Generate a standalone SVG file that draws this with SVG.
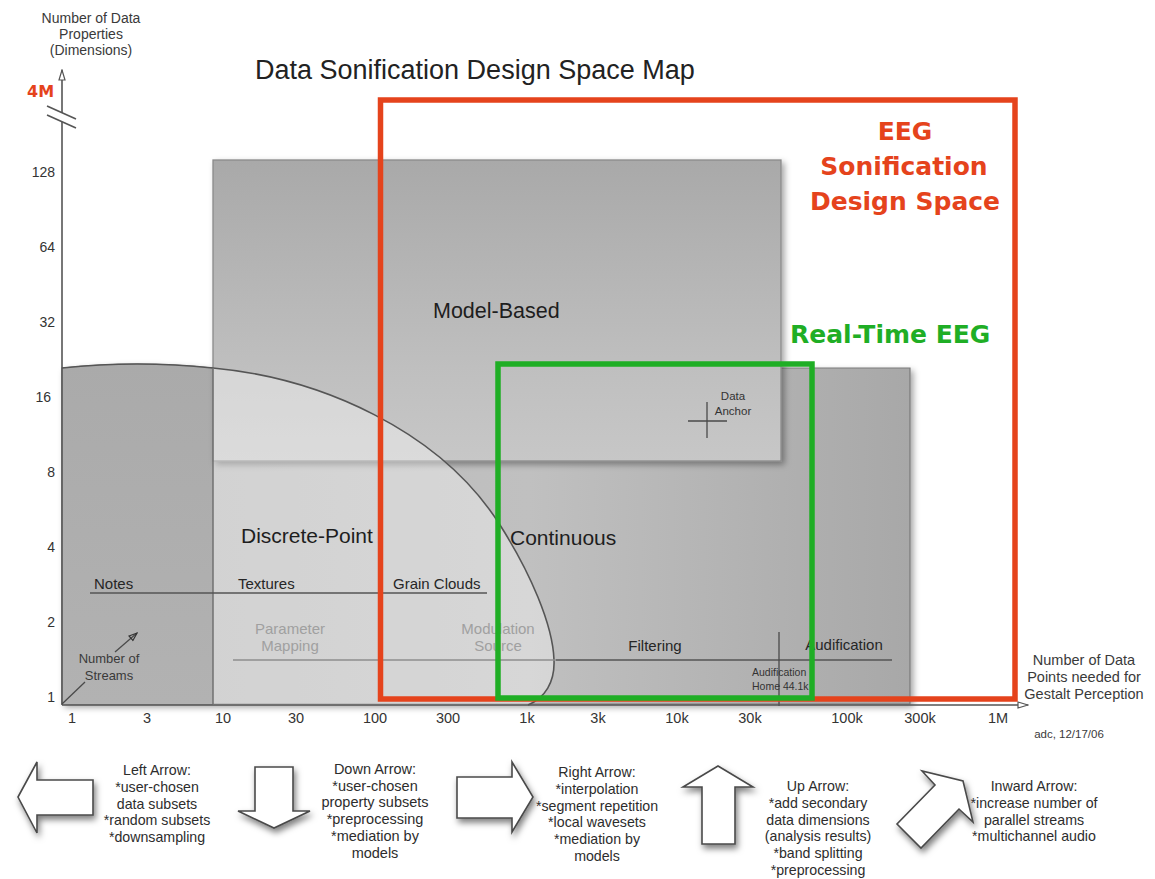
<svg xmlns="http://www.w3.org/2000/svg" width="1155" height="879" viewBox="0 0 1155 879">
  <defs>
    <style>
      text{font-family:"Liberation Sans",Arial,Helvetica,sans-serif;fill:#2a2a2a}
      .ax{font-size:14px;fill:#3a3a3a;text-anchor:middle}
      .tick{font-size:14.5px;fill:#333;text-anchor:middle}
      .ytick{font-size:14px;fill:#333;text-anchor:end}
      .region{font-size:21px;fill:#1e1e1e}
      .lbl{font-size:15px;fill:#262626}
      .faint{font-size:15px;fill:#a0a0a0;text-anchor:middle}
      .small{font-size:10.5px;fill:#333}
      .note{font-size:14.2px;fill:#2d2d2d;text-anchor:middle}
      .hl{font-family:"DejaVu Sans","Liberation Sans",sans-serif;font-weight:bold;font-size:25px}
      .red{fill:#e5431c}
      .green{fill:#1fae25}
      .line{stroke:#555;stroke-width:1.6;fill:none}
      .thin{stroke:#4a4a4a;stroke-width:1.3;fill:none}
      .blk{fill:#fff;stroke:#4a4a4a;stroke-width:1.6;stroke-linejoin:miter}
    </style>
    <linearGradient id="gModel" x1="0" y1="160" x2="0" y2="461" gradientUnits="userSpaceOnUse">
      <stop offset="0" stop-color="#a9a9a9"/>
      <stop offset="0.69" stop-color="#bfbfbf"/>
      <stop offset="1" stop-color="#c7c7c7"/>
    </linearGradient>
    <linearGradient id="gLower" x1="62" y1="0" x2="910" y2="0" gradientUnits="userSpaceOnUse">
      <stop offset="0" stop-color="#b6b6b6"/>
      <stop offset="0.55" stop-color="#c0c0c0"/>
      <stop offset="1" stop-color="#a8a8a8"/>
    </linearGradient>
    <linearGradient id="gLeft" x1="0" y1="362" x2="0" y2="704" gradientUnits="userSpaceOnUse">
      <stop offset="0" stop-color="#aaaaaa"/>
      <stop offset="1" stop-color="#b2b2b2"/>
    </linearGradient>
    <filter id="shadow" x="-10%" y="-10%" width="125%" height="125%">
      <feDropShadow dx="3" dy="3" stdDeviation="3" flood-color="#000" flood-opacity="0.35"/>
    </filter>
    <filter id="arrowShadow" x="-30%" y="-30%" width="170%" height="170%">
      <feDropShadow dx="2" dy="4" stdDeviation="3" flood-color="#000" flood-opacity="0.5"/>
    </filter>
    <marker id="openHead" viewBox="0 0 12 8" markerWidth="12" markerHeight="8" refX="11" refY="4" orient="auto" markerUnits="userSpaceOnUse">
      <path d="M1,1 L11,4 L1,7 Z" fill="#fff" stroke="#555" stroke-width="1.2"/>
    </marker>
    <marker id="smallHead" viewBox="0 0 10 8" markerWidth="10" markerHeight="8" refX="9" refY="4" orient="auto" markerUnits="userSpaceOnUse">
      <path d="M1,1 L9,4 L1,7 Z" fill="none" stroke="#333" stroke-width="1.2"/>
    </marker>
  </defs>

  <rect width="1155" height="879" fill="#fff"/>

  <!-- heading -->
  <g id="title">
    <text x="255" y="79" style="font-size:27px;fill:#222">Data Sonification Design Space Map</text>
  </g>

  <!-- lower region: discrete and continuous techniques -->
  <g id="lower-region">
    <path d="M62,368 Q137,360 213,368 L910,368 L910,704 L62,704 Z" fill="url(#gLower)" stroke="#7a7a7a" stroke-width="1.2" filter="url(#shadow)"/>
    <path d="M62,368 Q137,360 213,368 L213,704 L62,704 Z" fill="url(#gLeft)"/>
  </g>

  <!-- model-based region -->
  <g id="model-based">
    <rect x="213" y="160" width="568" height="301" fill="url(#gModel)" stroke="#8a8a8a" stroke-width="1.3" filter="url(#shadow)"/>
  </g>

  <!-- discrete-point zone bounded by the curve -->
  <g id="discrete-point">
    <path d="M213,368 C320,378 440,430 500,525 C530,572 553,625 554,660 C555,682 545,698 528,705 L213,705 Z" fill="#fff" fill-opacity="0.36"/>
    <path d="M62,368 Q137,360 213,368 C320,378 440,430 500,525 C530,572 553,625 554,660 C555,682 545,698 528,705" class="line"/>
    <line x1="213" y1="368" x2="213" y2="704" stroke="#707070" stroke-width="1.5"/>
  </g>

  <!-- technique scales -->
  <g id="scales">
    <line x1="90" y1="593" x2="487" y2="593" class="line" stroke-width="2"/>
    <line x1="233" y1="660" x2="556" y2="660" stroke="#8e8e8e" stroke-width="1.6"/>
    <line x1="556" y1="660" x2="892" y2="660" class="line"/>
    <line x1="779" y1="632" x2="779" y2="706" class="thin"/>
    <line x1="688" y1="421" x2="727" y2="421" class="thin"/>
    <line x1="707" y1="402" x2="707" y2="438" class="thin"/>
  </g>

  <g id="labels">
    <text x="433" y="318" class="region" style="font-size:21.5px">Model-Based</text>
    <text x="241" y="543" class="region">Discrete-Point</text>
    <text x="510" y="545" class="region">Continuous</text>
    <text x="94" y="589" class="lbl">Notes</text>
    <text x="238" y="589" class="lbl">Textures</text>
    <text x="393" y="589" class="lbl">Grain Clouds</text>
    <text class="faint"><tspan x="290" y="634">Parameter</tspan><tspan x="290" y="651">Mapping</tspan></text>
    <text class="faint"><tspan x="498" y="634">Modulation</tspan><tspan x="498" y="651">Source</tspan></text>
    <text x="655" y="651" class="lbl" text-anchor="middle">Filtering</text>
    <text x="844" y="650" class="lbl" text-anchor="middle">Audification</text>
    <text class="small"><tspan x="752" y="676">Audification</tspan><tspan x="752" y="690">Home 44.1k</tspan></text>
    <text class="small" text-anchor="middle" style="font-size:11.5px"><tspan x="733" y="400">Data</tspan><tspan x="733" y="415">Anchor</tspan></text>
    <text class="ax" style="font-size:13px"><tspan x="109" y="663">Number of</tspan><tspan x="109" y="680">Streams</tspan></text>
  </g>

  <!-- axes and pointers -->
  <g id="connectors">
    <line x1="62" y1="705" x2="62" y2="122" class="line"/>
    <line x1="62" y1="113" x2="62" y2="70" class="line" marker-end="url(#openHead)"/>
    <line x1="47" y1="106" x2="76" y2="119" class="line"/>
    <line x1="47" y1="115" x2="76" y2="128" class="line"/>
    <line x1="62" y1="705" x2="1028" y2="705" class="line" marker-end="url(#openHead)"/>
    <line x1="62" y1="704" x2="85" y2="682" class="thin"/>
    <line x1="115" y1="652" x2="137" y2="633" class="thin" marker-end="url(#smallHead)"/>
  </g>

  <g id="axis-labels">
    <text class="ax"><tspan x="91" y="23">Number of Data</tspan><tspan x="91" y="39">Properties</tspan><tspan x="91" y="55">(Dimensions)</tspan></text>
    <text x="27" y="97" class="hl red" style="font-size:16px">4M</text>
    <text class="ytick">
      <tspan x="55" y="177">128</tspan><tspan x="55" y="252">64</tspan><tspan x="55" y="327">32</tspan><tspan x="55" y="402">16</tspan>
      <tspan x="55" y="477">8</tspan><tspan x="55" y="552">4</tspan><tspan x="55" y="627">2</tspan><tspan x="55" y="702">1</tspan>
    </text>
    <text class="tick">
      <tspan x="72" y="723">1</tspan><tspan x="147" y="723">3</tspan><tspan x="223" y="723">10</tspan><tspan x="298" y="723">30</tspan>
      <tspan x="375" y="723">100</tspan><tspan x="448" y="723">300</tspan><tspan x="527" y="723">1k</tspan><tspan x="600" y="723">3k</tspan>
      <tspan x="677" y="723">10k</tspan><tspan x="750" y="723">30k</tspan><tspan x="847" y="723">100k</tspan><tspan x="922" y="723">300k</tspan>
      <tspan x="998" y="723">1M</tspan>
    </text>
    <text class="ax" style="font-size:14.5px"><tspan x="1084" y="665">Number of Data</tspan><tspan x="1084" y="682">Points needed for</tspan><tspan x="1084" y="699">Gestalt Perception</tspan></text>
    <text x="1069" y="738" class="ax" style="font-size:11.5px">adc, 12/17/06</text>
  </g>

  <!-- EEG sonification design space -->
  <g id="eeg-space">
    <rect x="380.5" y="100" width="634.5" height="599" fill="none" stroke="#e5431c" stroke-width="5.5"/>
    <text class="hl red" text-anchor="middle"><tspan x="905" y="140">EEG</tspan><tspan x="904" y="175">Sonification</tspan><tspan x="905" y="210">Design Space</tspan></text>
  </g>

  <!-- real-time EEG subspace -->
  <g id="realtime-eeg">
    <rect x="498" y="364" width="314" height="334" fill="none" stroke="#1fae25" stroke-width="5.5"/>
    <text x="790" y="343" class="hl green">Real-Time EEG</text>
  </g>

  <!-- movement legend -->
  <g id="left-arrow">
    <polygon class="blk" filter="url(#arrowShadow)" points="18,797 37,762 37,780 93,780 93,815 37,815 37,833"/>
    <text class="note"><tspan x="157" y="775">Left Arrow:</tspan><tspan x="157" y="792">*user-chosen</tspan><tspan x="157" y="809">data subsets</tspan><tspan x="157" y="825">*random subsets</tspan><tspan x="157" y="842">*downsampling</tspan></text>
  </g>
  <g id="down-arrow">
    <polygon class="blk" filter="url(#arrowShadow)" points="255,767 293,767 293,811 310,811 274,828 238,811 255,811"/>
    <text class="note" style="font-size:14.5px"><tspan x="375" y="774">Down Arrow:</tspan><tspan x="375" y="791">*user-chosen</tspan><tspan x="375" y="807">property subsets</tspan><tspan x="375" y="824">*preprocessing</tspan><tspan x="375" y="841">*mediation by</tspan><tspan x="375" y="858">models</tspan></text>
  </g>
  <g id="right-arrow">
    <polygon class="blk" filter="url(#arrowShadow)" points="457,777 512,777 512,762 533,797 512,832 512,818 457,818"/>
    <text class="note"><tspan x="597" y="777">Right Arrow:</tspan><tspan x="597" y="794">*interpolation</tspan><tspan x="597" y="811">*segment repetition</tspan><tspan x="597" y="827">*local wavesets</tspan><tspan x="597" y="844">*mediation by</tspan><tspan x="597" y="861">models</tspan></text>
  </g>
  <g id="up-arrow">
    <polygon class="blk" filter="url(#arrowShadow)" points="718,766 753,787 735,787 735,844 702,844 702,787 683,787"/>
    <text class="note"><tspan x="818" y="791">Up Arrow:</tspan><tspan x="818" y="808">*add secondary</tspan><tspan x="818" y="825">data dimensions</tspan><tspan x="818" y="841">(analysis results)</tspan><tspan x="818" y="858">*band splitting</tspan><tspan x="818" y="875">*preprocessing</tspan></text>
  </g>
  <g id="inward-arrow">
    <polygon class="blk" filter="url(#arrowShadow)" points="963,781 973,822 959,809 921,848 897,824 935,785 922,771"/>
    <text class="note"><tspan x="1034" y="791">Inward Arrow:</tspan><tspan x="1034" y="808">*increase number of</tspan><tspan x="1034" y="825">parallel streams</tspan><tspan x="1034" y="841">*multichannel audio</tspan></text>
  </g>
</svg>
